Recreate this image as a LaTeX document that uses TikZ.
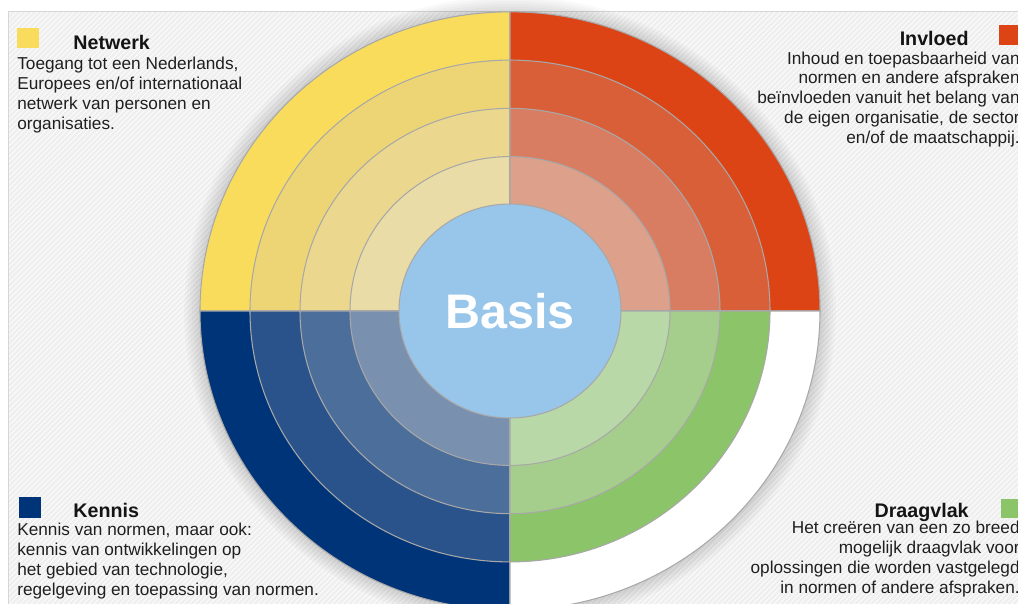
\documentclass[tikz,border=0pt]{standalone}
\usepackage{fontspec}
\setmainfont{Liberation Sans}
\usetikzlibrary{patterns}
\definecolor{bggray}{HTML}{EFEFEF}
\definecolor{framegray}{HTML}{D6D6D6}
\definecolor{ringgray}{HTML}{A8A8A8}
\definecolor{netwerkA}{HTML}{F9DC5C}
\definecolor{netwerkB}{HTML}{EDD576}
\definecolor{netwerkC}{HTML}{EBD88E}
\definecolor{netwerkD}{HTML}{E9DCA6}
\definecolor{invloedA}{HTML}{DC4415}
\definecolor{invloedB}{HTML}{D95F39}
\definecolor{invloedC}{HTML}{D87D62}
\definecolor{invloedD}{HTML}{DCA08B}
\definecolor{kennisA}{HTML}{003478}
\definecolor{kennisB}{HTML}{29538A}
\definecolor{kennisC}{HTML}{4C6E9A}
\definecolor{kennisD}{HTML}{7990AF}
\definecolor{draagB}{HTML}{8BC469}
\definecolor{draagC}{HTML}{A5CE8C}
\definecolor{draagD}{HTML}{B9D8A8}
\definecolor{basisblue}{HTML}{98C6EA}

\begin{document}
\begin{tikzpicture}[x=0.02cm, y=-0.02cm,
    body/.style={font=\fontsize{9.8}{11.2}\selectfont, inner sep=0pt, text=black!88},
    head/.style={font=\fontsize{11.2}{13}\selectfont\bfseries, inner sep=0pt, text=black!92},
    ring/.style={draw=ringgray, line width=0.6pt}]
    \useasboundingbox (0,0) rectangle (1018,603);
    \clip (0,0) rectangle (1018,603);

    % background
    \fill[white] (0,0) rectangle (1018,603);
    \fill[bggray] (8,11) rectangle (1030,620);
    \fill[pattern=north east lines, pattern color=white] (8,11) rectangle (1030,620);
    \draw[framegray] (8,620) -- (8,11) -- (1030,11);

    % shadow round the disc
    \foreach \w in {3,6,...,18}
        \draw[black, opacity=0.025, line width=\w] (510,311) ellipse [x radius=310, y radius=299];

    % quarters, outer ring first (disc is a bit flattened: 0.965)
    \foreach \a/\ca/\cb/\cc/\cd in {180/netwerkA/netwerkB/netwerkC/netwerkD,
            270/invloedA/invloedB/invloedC/invloedD,
            90/kennisA/kennisB/kennisC/kennisD,
            0/white/draagB/draagC/draagD}
        \foreach \r/\c in {310/\ca, 260/\cb, 210/\cc, 160/\cd}
            \filldraw[ring, fill=\c] (510,311) -- ++({\r*cos(\a)},{0.965*\r*sin(\a)})
                arc[start angle=\a, delta angle=90, x radius=\r, y radius={0.965*\r}] -- cycle;

    \filldraw[ring, fill=basisblue] (510,311) ellipse [x radius=111, y radius=107];
    \node[font=\fontsize{27.6}{30}\selectfont\bfseries, text=white] (basis) at (510,311) {Basis};

    % legend squares
    \fill[netwerkA] (17,28) rectangle (39,48);
    \fill[invloedA] (999,25) rectangle (1021,45);
    \fill[kennisA] (19,497) rectangle (41,518);
    \fill[draagB] (1001,499) rectangle (1023,518);

    % base = last line of the block
    \node[head, anchor=base west] (netwerk) at (73,49) {Netwerk};
    \node[body, anchor=base west, align=left] (netwerk-txt) at (17,129)
        {Toegang tot een Nederlands,\\Europees en/of internationaal\\netwerk van personen en\\organisaties.};

    \node[head, anchor=base east] (invloed) at (969,45) {Invloed};
    \node[body, anchor=base east, align=right] (invloed-txt) at (1020,143)
        {Inhoud en toepasbaarheid van\\normen en andere afspraken\\beïnvloeden vanuit het belang van\\de eigen organisatie, de sector\\en/of de maatschappij.};

    \node[head, anchor=base west] (kennis) at (73,517) {Kennis};
    \node[body, anchor=base west, align=left] (kennis-txt) at (17,595)
        {Kennis van normen, maar ook:\\kennis van ontwikkelingen op\\het gebied van technologie,\\regelgeving en toepassing van normen.};

    \node[head, anchor=base east] (draagvlak) at (969,517) {Draagvlak};
    \node[body, anchor=base east, align=right] (draagvlak-txt) at (1020,593)
        {Het creëren van een zo breed\\mogelijk draagvlak voor\\oplossingen die worden vastgelegd\\in normen of andere afspraken.};
\end{tikzpicture}
\end{document}
